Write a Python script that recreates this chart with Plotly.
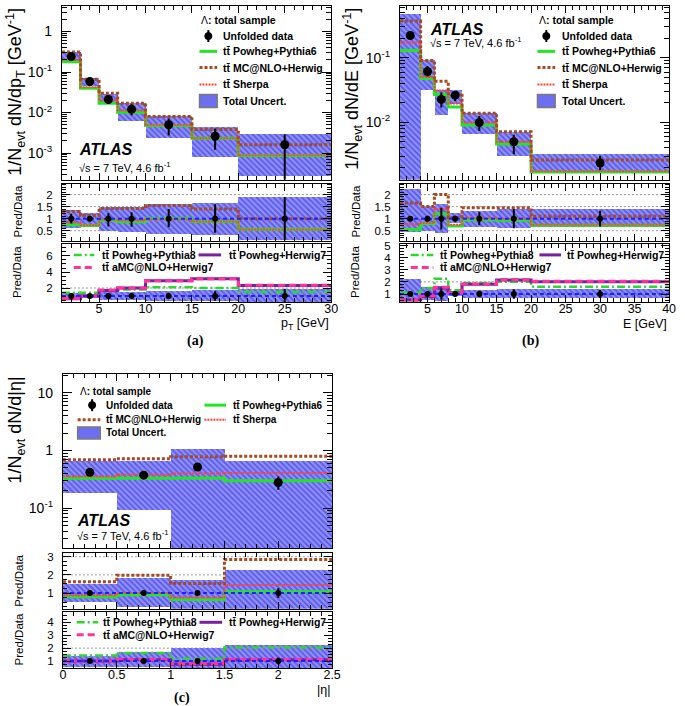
import plotly.graph_objects as go

W, H = 685, 706
FONT = "Liberation Sans"
SERIF = "Liberation Serif"
TTB = "tt\u0304"

# ================= DATA =================
# ---- panel (a): Lambda p_T ----
pt_edges = [1, 3, 5, 7, 10, 15, 20, 30]
pt_data = [0.24, 0.058, 0.021, 0.012, 0.0050, 0.0026, 0.0016]
pt_data_hi = [0.265, 0.063, 0.023, 0.016, 0.0071, 0.0040, 0.0029]
pt_data_lo = [0.215, 0.053, 0.017, 0.0085, 0.0027, 0.0012, 0.0002]
pt_unc_hi = [0.32, 0.071, 0.029, 0.0174, 0.0081, 0.0043, 0.0029]
pt_unc_lo = [0.186, 0.046, 0.0162, 0.0062, 0.0023, 0.00081, 0.000275]
pt_powpy6 = [0.18, 0.040, 0.017, 0.0102, 0.0048, 0.0023, 0.00087]
pt_mcnlo = [0.31, 0.066, 0.030, 0.017, 0.0080, 0.0038, 0.0016]
pt_sherpa = [0.20, 0.042, 0.020, 0.0112, 0.0049, 0.0023, 0.00088]
pt_r_powpy6 = [0.75, 0.72, 0.93, 0.87, 1.0, 0.88, 0.56]
pt_r_mcnlo = [1.3, 1.13, 1.42, 1.42, 1.55, 1.4, 1.0]
pt_r_sherpa = [0.85, 0.73, 0.96, 0.92, 0.97, 0.88, 0.55]
pt_r_unc_hi = [1.37, 1.23, 1.48, 1.5, 1.64, 1.68, 1.89]
pt_r_unc_lo = [0.63, 0.73, 0.52, 0.45, 0.39, 0.32, 0.11]
pt_r_data_hi = [1.2, 1.1, 1.23, 1.27, 1.4, 1.6, 1.9]
pt_r_data_lo = [0.8, 0.9, 0.68, 0.66, 0.64, 0.42, 0.1]
pt_r_powpy8 = [1.4, 1.4, 1.7, 1.8, 2.1, 2.0, 1.5]
pt_r_powhw7 = [0.65, 1.0, 1.7, 2.0, 2.9, 3.15, 2.3]
pt_r_amchw7 = [0.7, 1.0, 1.75, 2.0, 2.9, 3.15, 2.35]

# ---- panel (b): Lambda energy ----
e_edges = [1, 4, 6, 8, 10, 15, 20, 40]
e_data = [0.22, 0.061, 0.0226, 0.0263, 0.0099, 0.0050, 0.00234]
e_data_hi = [0.24, 0.074, 0.0288, 0.0295, 0.0125, 0.0064, 0.0030]
e_data_lo = [0.20, 0.051, 0.0170, 0.0214, 0.0073, 0.0032, 0.0018]
e_unc_hi = [0.47, 0.091, 0.032, 0.032, 0.0138, 0.0071, 0.0032]
e_unc_lo = [0.001, 0.032, 0.0128, 0.019, 0.0067, 0.0030, 0.0017]
e_powpy6 = [0.129, 0.0476, 0.027, 0.0172, 0.0091, 0.0046, 0.0017]
e_mcnlo = [0.37, 0.09, 0.043, 0.0276, 0.0138, 0.0071, 0.0026]
e_sherpa = [0.172, 0.05, 0.031, 0.0195, 0.0100, 0.0050, 0.00175]
e_r_powpy6 = [0.55, 0.8, 1.2, 0.7, 0.95, 0.93, 0.73]
e_r_mcnlo = [1.65, 1.5, 2.0, 1.05, 1.45, 1.45, 1.1]
e_r_sherpa = [0.77, 0.82, 1.4, 0.75, 1.03, 1.0, 0.75]
e_r_unc_hi = [2.23, 1.55, 1.6, 1.23, 1.31, 1.4, 1.4]
e_r_unc_lo = [0.45, 0.52, 0.42, 0.82, 0.66, 0.62, 0.66]
e_r_data_hi = [1.05, 1.12, 1.45, 1.12, 1.27, 1.4, 1.33]
e_r_data_lo = [0.95, 0.88, 0.55, 0.88, 0.73, 0.6, 0.67]
e_r_powpy8 = [1.1, 1.5, 2.25, 1.3, 1.9, 2.0, 1.6]
e_r_powhw7 = [0.5, 0.8, 1.5, 1.1, 1.8, 2.15, 2.0]
e_r_amchw7 = [0.5, 0.85, 1.55, 1.1, 1.8, 2.2, 2.05]

# ---- panel (c): Lambda |eta| ----
eta_edges = [0, 0.5, 1.0, 1.5, 2.5]
eta_data = [0.42, 0.375, 0.52, 0.28]
eta_data_hi = [0.45, 0.41, 0.56, 0.355]
eta_data_lo = [0.39, 0.34, 0.48, 0.21]
eta_unc_hi = [0.65, 0.65, 1.05, 0.65]
eta_unc_lo = [0.18, 0.093, 0.01, 0.01]
eta_powpy6 = [0.33, 0.33, 0.33, 0.30]
eta_mcnlo = [0.69, 0.72, 0.78, 0.80]
eta_sherpa = [0.355, 0.38, 0.40, 0.41]
eta_r_powpy6 = [0.8, 0.91, 0.65, 1.07]
eta_r_mcnlo = [1.62, 1.98, 1.53, 2.85]
eta_r_sherpa = [0.88, 1.0, 0.75, 1.45]
eta_r_unc_hi = [1.5, 1.8, 1.7, 2.25]
eta_r_unc_lo = [0.5, 0.22, 0.14, 0.14]
eta_r_data_hi = [1.05, 1.1, 1.08, 1.27]
eta_r_data_lo = [0.95, 0.9, 0.92, 0.73]
eta_r_powpy8 = [1.43, 1.63, 1.18, 2.05]
eta_r_powhw7 = [1.0, 1.1, 0.75, 1.1]
eta_r_amchw7 = [1.0, 1.12, 0.78, 1.12]
eta_r2_unc_hi = [1.45, 1.7, 2.0, 2.3]
eta_r2_unc_lo = [0.6, 0.6, 0.5, 0.45]

# ================= STYLES =================
C_PY6 = "#22e622"
C_MCNLO = "#a8481c"
C_SHERPA = "#ff4040"
C_PY8 = "#2ed62e"
C_HW7 = "#7a1f9e"
C_AMC = "#ff3399"
C_ONE = "#1f1fff"
BAND_FG = "#2020e8"
BAND_BG = "#9090f6"

fig = go.Figure()


def fx(px):
    return px / W


def fy(py):
    return 1 - py / H


def centers(edges):
    return [(a + b) / 2 for a, b in zip(edges[:-1], edges[1:])]


def widths(edges):
    return [b - a for a, b in zip(edges[:-1], edges[1:])]


def add_band(edges, lo, hi, ax):
    fig.add_trace(go.Bar(
        x=centers(edges), y=[h - l for h, l in zip(hi, lo)], base=lo, width=widths(edges),
        marker=dict(color=BAND_BG, line=dict(width=0),
                    pattern=dict(shape="\\", fgcolor=BAND_FG, bgcolor=BAND_BG, size=4, solidity=0.45)),
        xaxis=ax[0], yaxis=ax[1], showlegend=False, hoverinfo="skip"))


def add_step(edges, vals, ax, color, width, dash):
    fig.add_trace(go.Scatter(
        x=edges, y=list(vals) + [vals[-1]], mode="lines",
        line=dict(color=color, width=width, dash=dash, shape="hv"),
        xaxis=ax[0], yaxis=ax[1], showlegend=False, hoverinfo="skip"))


def add_data(edges, vals, hi, lo, ax, size):
    fig.add_trace(go.Scatter(
        x=centers(edges), y=vals, mode="markers",
        marker=dict(color="black", size=size),
        error_y=dict(type="data", symmetric=False,
                     array=[h - v for h, v in zip(hi, vals)],
                     arrayminus=[v - l for v, l in zip(vals, lo)],
                     color="black", thickness=2, width=0),
        xaxis=ax[0], yaxis=ax[1], showlegend=False, hoverinfo="skip"))


DOT_BROWN = "3px,2px"
DOT_RED = "2px,1px"
DASHDOT = "8px,3px,2px,3px"
DASH_PINK = "7px,4px"


def main_panel(edges, data, dhi, dlo, uhi, ulo, py6, mc, sh, ax):
    add_band(edges, ulo, uhi, ax)
    add_step(edges, py6, ax, C_PY6, 3, "solid")
    add_step(edges, sh, ax, C_SHERPA, 2, DOT_RED)
    add_step(edges, mc, ax, C_MCNLO, 3, DOT_BROWN)
    add_data(edges, data, dhi, dlo, ax, 9)


def ratio1_panel(edges, data, uhi, ulo, py6, mc, sh, rdhi, rdlo, ax):
    add_band(edges, ulo, uhi, ax)
    add_step(edges, py6, ax, C_PY6, 3, "solid")
    add_step(edges, sh, ax, C_SHERPA, 2, DOT_RED)
    add_step(edges, mc, ax, C_MCNLO, 3, DOT_BROWN)
    ones = [d / d for d in data]
    add_step(edges, ones, ax, C_ONE, 2, "4px,3px")
    add_data(edges, ones, rdhi, rdlo, ax, 6)


def ratio2_panel(edges, data, uhi, ulo, py8, hw7, amc, rdhi, rdlo, ax):
    add_band(edges, ulo, uhi, ax)
    add_step(edges, py8, ax, C_PY8, 2.5, DASHDOT)
    add_step(edges, hw7, ax, C_HW7, 3, "solid")
    add_step(edges, amc, ax, C_AMC, 3, DASH_PINK)
    ones = [d / d for d in data]
    add_step(edges, ones, ax, C_ONE, 2, "4px,3px")
    add_data(edges, ones, rdhi, rdlo, ax, 6)


A = [("x", "y"), ("x2", "y2"), ("x3", "y3")]
B = [("x4", "y4"), ("x5", "y5"), ("x6", "y6")]
C = [("x7", "y7"), ("x8", "y8"), ("x9", "y9")]

main_panel(pt_edges, pt_data, pt_data_hi, pt_data_lo, pt_unc_hi, pt_unc_lo, pt_powpy6, pt_mcnlo, pt_sherpa, A[0])
ratio1_panel(pt_edges, pt_data, pt_r_unc_hi, pt_r_unc_lo, pt_r_powpy6, pt_r_mcnlo, pt_r_sherpa, pt_r_data_hi, pt_r_data_lo, A[1])
ratio2_panel(pt_edges, pt_data, pt_r_unc_hi, pt_r_unc_lo, pt_r_powpy8, pt_r_powhw7, pt_r_amchw7, pt_r_data_hi, pt_r_data_lo, A[2])

main_panel(e_edges, e_data, e_data_hi, e_data_lo, e_unc_hi, e_unc_lo, e_powpy6, e_mcnlo, e_sherpa, B[0])
ratio1_panel(e_edges, e_data, e_r_unc_hi, e_r_unc_lo, e_r_powpy6, e_r_mcnlo, e_r_sherpa, e_r_data_hi, e_r_data_lo, B[1])
ratio2_panel(e_edges, e_data, e_r_unc_hi, e_r_unc_lo, e_r_powpy8, e_r_powhw7, e_r_amchw7, e_r_data_hi, e_r_data_lo, B[2])

main_panel(eta_edges, eta_data, eta_data_hi, eta_data_lo, eta_unc_hi, eta_unc_lo, eta_powpy6, eta_mcnlo, eta_sherpa, C[0])
ratio1_panel(eta_edges, eta_data, eta_r_unc_hi, eta_r_unc_lo, eta_r_powpy6, eta_r_mcnlo, eta_r_sherpa, eta_r_data_hi, eta_r_data_lo, C[1])
ratio2_panel(eta_edges, eta_data, eta_r2_unc_hi, eta_r2_unc_lo, eta_r_powpy8, eta_r_powhw7, eta_r_amchw7, eta_r_data_hi, eta_r_data_lo, C[2])

# ================= AXES =================
def lk(axid):
    return axid[0] + "axis" + axid[1:]


LOG_MINOR = [m * 10 ** k for k in range(-5, 3) for m in range(2, 10)]


def xcfg(domain, rng, anchor, dtick, mdtick, labels):
    return dict(domain=domain, range=rng, anchor=anchor, showline=True, linecolor="black", linewidth=1,
                mirror="allticks", ticks="inside", ticklen=7, tickwidth=1, tickcolor="black",
                tick0=0, dtick=dtick,
                minor=dict(dtick=mdtick, tick0=0, ticks="inside", ticklen=4, tickcolor="black", tickwidth=1),
                showticklabels=labels, tickfont=dict(family=FONT, size=12.5, color="black"),
                ticklabelstandoff=-5,
                showgrid=False, zeroline=False, fixedrange=True)


def ylin(domain, rng, anchor, tickvals, ticktext, mdtick):
    return dict(domain=domain, range=rng, anchor=anchor, showline=True, linecolor="black", linewidth=1,
                mirror="allticks", ticks="inside", ticklen=8, tickwidth=1, tickcolor="black",
                tickmode="array", tickvals=tickvals, ticktext=ticktext,
                minor=dict(dtick=mdtick, tick0=0, ticks="inside", ticklen=4, tickcolor="black", tickwidth=1),
                tickfont=dict(family=FONT, size=11.5, color="black"), ticklabelstandoff=6,
                showgrid=False, zeroline=False, fixedrange=True)


def ylog(domain, rng, anchor, tickvals, ticktext):
    return dict(type="log", domain=domain, range=rng, anchor=anchor, showline=True, linecolor="black",
                linewidth=1, mirror="allticks", ticks="inside", ticklen=9, tickwidth=1, tickcolor="black",
                tickmode="array", tickvals=tickvals, ticktext=ticktext,
                minor=dict(tickmode="array", tickvals=LOG_MINOR, ticks="inside", ticklen=5, tickcolor="black",
                           tickwidth=1),
                tickfont=dict(family=FONT, size=14, color="black"), ticklabelstandoff=6,
                showgrid=False, zeroline=False, fixedrange=True)


ax_x = [fx(60), fx(334)]
bx_x = [fx(404), fx(678)]
cx_x = [fx(61), fx(335)]
top_main = [fy(176), fy(1)]
top_r1 = [fy(238), fy(180)]
top_r2 = [fy(299), fy(241)]
c_main = [fy(547), fy(372)]
c_r1 = [fy(608), fy(552)]
c_r2 = [fy(668), fy(611)]

P = "10<sup>-%d</sup>"
layout_axes = {}
# panel a
layout_axes[lk("x")] = xcfg(ax_x, [1, 30], "y", 5, 1, False)
layout_axes[lk("y")] = ylog(top_main, [-3.66, 0.63], "x", [1e-3, 1e-2, 1e-1, 1], [P % 3, P % 2, P % 1, "1"])
layout_axes[lk("x2")] = xcfg(ax_x, [1, 30], "y2", 5, 1, False)
layout_axes[lk("y2")] = ylin(top_r1, [0.06, 2.45], "x2", [0.5, 1, 1.5, 2], ["0.5", "1", "1.5", "2"], 0.1)
layout_axes[lk("x3")] = xcfg(ax_x, [1, 30], "y3", 5, 1, True)
layout_axes[lk("y3")] = ylin(top_r2, [0.27, 7.46], "x3", [2, 4, 6], ["2", "4", "6"], 0.5)
# panel b
layout_axes[lk("x4")] = xcfg(bx_x, [1, 40], "y4", 5, 1, False)
layout_axes[lk("y4")] = ylog(top_main, [-2.89, -0.2], "x4", [1e-2, 1e-1], [P % 2, P % 1])
layout_axes[lk("x5")] = xcfg(bx_x, [1, 40], "y5", 5, 1, False)
layout_axes[lk("y5")] = ylin(top_r1, [0.06, 2.45], "x5", [0.5, 1, 1.5, 2], ["0.5", "1", "1.5", "2"], 0.1)
layout_axes[lk("x6")] = xcfg(bx_x, [1, 40], "y6", 5, 1, True)
layout_axes[lk("y6")] = ylin(top_r2, [0.35, 5.1], "x6", [1, 2, 3, 4, 5], ["1", "2", "3", "4", "5"], 0.25)
# panel c
layout_axes[lk("x7")] = xcfg(cx_x, [0, 2.5], "y7", 0.5, 0.1, False)
layout_axes[lk("y7")] = ylog(c_main, [-1.69, 1.32], "x7", [1e-1, 1, 10], [P % 1, "1", "10"])
layout_axes[lk("x8")] = xcfg(cx_x, [0, 2.5], "y8", 0.5, 0.1, False)
layout_axes[lk("y8")] = ylin(c_r1, [0.14, 3.2], "x8", [1, 2, 3], ["1", "2", "3"], 0.25)
layout_axes[lk("x9")] = xcfg(cx_x, [0, 2.5], "y9", 0.5, 0.1, True)
layout_axes[lk("y9")] = ylin(c_r2, [0.44, 4.82], "x9", [1, 2, 3, 4], ["1", "2", "3", "4"], 0.25)

# ================= DECORATION =================
shapes = []
annotations = []


def grid(ax, vals):
    for v in vals:
        shapes.append(dict(type="line", xref=ax[0] + " domain", x0=0, x1=1, yref=ax[1], y0=v, y1=v,
                           line=dict(color="#9a9a9a", width=1, dash="2px,2px"), layer="below"))


grid(A[1], [0.5, 1.5, 2])
grid(A[2], [2])
grid(B[1], [0.5, 1.5, 2])
grid(B[2], [2])
grid(C[1], [2, 3])
grid(C[2], [2])


def text(x, y, s, size, xanchor="left", yanchor="middle", family=FONT, angle=0):
    annotations.append(dict(x=fx(x), y=fy(y), xref="paper", yref="paper", text=s, showarrow=False,
                            xanchor=xanchor, yanchor=yanchor, textangle=angle,
                            font=dict(family=family, size=size, color="black")))


def leg_line(x0, x1, y, color, width, dash):
    shapes.append(dict(type="line", xref="paper", yref="paper", x0=fx(x0), x1=fx(x1), y0=fy(y), y1=fy(y),
                       line=dict(color=color, width=width, dash=dash)))


def leg_data(xc, y):
    shapes.append(dict(type="line", xref="paper", yref="paper", x0=fx(xc), x1=fx(xc), y0=fy(y - 6),
                       y1=fy(y + 6), line=dict(color="black", width=2)))
    shapes.append(dict(type="circle", xref="paper", yref="paper", x0=fx(xc - 3.6), x1=fx(xc + 3.6),
                       y0=fy(y - 3.6), y1=fy(y + 3.6), fillcolor="black", line=dict(color="black", width=1)))


def leg_box(x0, x1, y0, y1):
    shapes.append(dict(type="rect", xref="paper", yref="paper", x0=fx(x0), x1=fx(x1), y0=fy(y1), y1=fy(y0),
                       fillcolor="#6e6ef0", line=dict(color="#7a7a7a", width=1.5)))


LS = 10.5
LSC = 10


def B_(s):
    return "<b>" + s + "</b>"


def main_legend(x0, x1, xt, ys):
    text(x0, ys[0] - 16, "Λ" + B_(": total sample"), LS)
    leg_data((x0 + x1) / 2, ys[0])
    text(xt, ys[0], B_("Unfolded data"), LS)
    leg_line(x0, x1, ys[1], C_PY6, 3, "solid")
    text(xt, ys[1], B_(TTB + " Powheg+Pythia6"), LS)
    leg_line(x0, x1, ys[2], C_MCNLO, 3, DOT_BROWN)
    text(xt, ys[2], B_(TTB + " MC@NLO+Herwig"), LS)
    leg_line(x0, x1, ys[3], C_SHERPA, 2, DOT_RED)
    text(xt, ys[3], B_(TTB + " Sherpa"), LS)
    leg_box(x0, x1, ys[4] - 6.5, ys[4] + 6.5)
    text(xt, ys[4], B_("Total Uncert."), LS)


main_legend(200, 218, 222, [31.3, 46.7, 63, 80, 96.7])
main_legend(544, 562, 567, [31.3, 46.7, 63, 80, 96.7])

# panel (c) two-column legend
text(76, 389, "Λ" + B_(": total sample"), LSC)
leg_data(90.7, 403)
text(103, 403, B_("Unfolded data"), LSC)
leg_line(205, 227, 403, C_PY6, 3, "solid")
text(232, 403, B_(TTB + " Powheg+Pythia6"), LSC)
leg_line(76, 99, 417.7, C_MCNLO, 3, DOT_BROWN)
text(103, 417.7, B_(TTB + " MC@NLO+Herwig"), LSC)
leg_line(205, 227, 417.7, C_SHERPA, 2, DOT_RED)
text(232, 417.7, B_(TTB + " Sherpa"), LSC)
leg_box(76, 99, 425, 437)
text(103, 431, B_("Total Uncert."), LSC)


def ratio_legend(sx0, sx1, tx, rx0, rx1, rtx, y1, y2):
    leg_line(sx0, sx1, y1, C_PY8, 2.5, DASHDOT)
    text(tx, y1, B_(TTB + " Powheg+Pythia8"), LS)
    leg_line(sx0, sx1, y2, C_AMC, 3, DASH_PINK)
    text(tx, y2, B_(TTB + " aMC@NLO+Herwig7"), LS)
    leg_line(rx0, rx1, y1, C_HW7, 3, "solid")
    text(rtx, y1, B_(TTB + " Powheg+Herwig7"), LS)


ratio_legend(72, 93, 99, 199, 222, 228, 251.7, 264.3)
ratio_legend(415, 438, 443, 546, 568, 572, 251.7, 264.3)
ratio_legend(75, 97, 100, 200, 223, 228, 621.7, 634.3)

# ATLAS labels
text(75, 145.7, "<b><i>ATLAS</i></b>", 16)
text(75, 163.3, "√s = 7 TeV, 4.6 fb<sup>-1</sup>", 11)
text(433, 25, "<b><i>ATLAS</i></b>", 16)
text(433, 37, "√s = 7 TeV, 4.6 fb<sup>-1</sup>", 11)
text(73, 519, "<b><i>ATLAS</i></b>", 16)
text(73, 533.5, "√s = 7 TeV, 4.6 fb<sup>-1</sup>", 11)

# axis titles
text(13, 1, "1/N<sub>evt</sub> dN/dp<sub>T</sub> [GeV<sup>-1</sup>]", 18, "center", "top", angle=-90)
text(356, 1, "1/N<sub>evt</sub> dN/dE [GeV<sup>-1</sup>]", 18, "center", "top", angle=-90)
text(14, 372, "1/N<sub>evt</sub> dN/d|η|", 18, "center", "top", angle=-90)
for (xc, tops) in [(15, [180, 241]), (359, [180, 241]), (16, [552, 611])]:
    for t in tops:
        text(xc, t, "Pred/Data", 11.5, "center", "top", angle=-90)

text(334, 321, "p<sub>T</sub> [GeV]", 12.5, "right", "middle")
text(678, 321, "E [GeV]", 12.5, "right", "middle")
text(335, 690, "|η|", 12.5, "right", "middle")

# panel labels
text(196, 338, "<b>(a)</b>", 14, "center", "middle", family=SERIF)
text(537, 338, "<b>(b)</b>", 14, "center", "middle", family=SERIF)
text(182, 698, "<b>(c)</b>", 14, "center", "middle", family=SERIF)

fig.update_layout(
    width=W, height=H, margin=dict(l=0, r=0, t=0, b=0),
    paper_bgcolor="white", plot_bgcolor="white",
    barmode="overlay", bargap=0, showlegend=False,
    font=dict(family=FONT, color="black"),
    shapes=shapes, annotations=annotations,
    **layout_axes,
)

fig.write_html("out.html", config={"displayModeBar": False},
               post_script="document.body.style.margin='0px';")
